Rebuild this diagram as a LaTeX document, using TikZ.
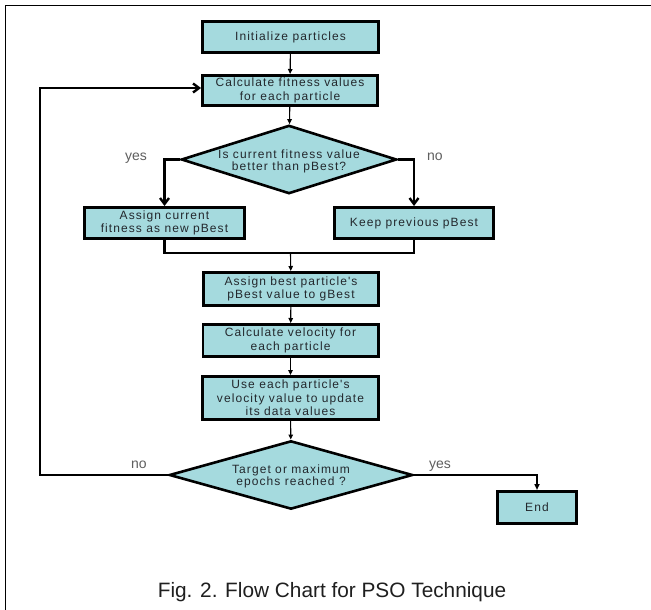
\documentclass[tikz,border=0pt]{standalone}
\usepackage{fontspec}
\setmainfont{Liberation Sans}
\newfontfamily\boxfont[LetterSpace=9]{Liberation Sans}
\usetikzlibrary{shapes.geometric,arrows.meta}
\definecolor{boxfill}{RGB}{165,218,222}
\definecolor{boxtext}{RGB}{35,40,45}
\definecolor{lbl}{RGB}{95,95,95}
\begin{document}
\begin{tikzpicture}[x=1pt,y=-1pt,
  procbox/.style={draw=black,line width=2.6pt,fill=boxfill,text=boxtext,
    font=\boxfont\fontsize{12}{13.5}\selectfont,align=center,inner sep=0pt},
  decbox/.style={shape=diamond,draw=black,line width=2.6pt,fill=boxfill,inner sep=0pt,aspect=3},
  dectext/.style={text=boxtext,font=\boxfont\fontsize{12}{12.5}\selectfont,align=center,inner sep=0pt},
  lbltext/.style={text=lbl,font=\fontsize{14}{16}\selectfont,inner sep=0pt,anchor=base west},
  thinarrow/.style={draw=black,line width=1.1pt,-{Triangle[length=5pt,width=4.5pt]}},
  midarrow/.style={draw=black,line width=1.5pt,-{Triangle[length=6pt,width=5pt]}},
  thickarrow/.style={draw=black,line width=2.4pt,-{Straight Barb[length=6pt,width=9pt]}},
  thickline/.style={draw=black,line width=2.4pt}
]
\useasboundingbox (0,0) rectangle (651,610);
\fill[white] (0,0) rectangle (651,610);
% frame
\draw[line width=1.6pt] (5.5,610) -- (5.5,5.5) -- (651,5.5);

% process boxes
\node[procbox,minimum width=176.4pt,minimum height=31.4pt] (init) at (290.5,37) {Initialize particles};
\node[procbox,minimum width=175.4pt,minimum height=30.4pt] (calc) at (290,90.5) {Calculate fitness values\\for each particle};
\node[decbox,minimum width=215.4pt,minimum height=68.4pt] (d1) at (289,159.5) {};
\node[dectext] (d1t) at ([yshift=-2pt]d1.center) {Is current fitness value\\better than pBest?};
\node[procbox,minimum width=160.4pt,minimum height=31.4pt] (assn) at (164.5,223) {Assign current\\fitness as new pBest};
\node[procbox,minimum width=159.4pt,minimum height=31.4pt] (keep) at (414,223) {Keep previous pBest};
\node[procbox,minimum width=175.4pt,minimum height=33.4pt] (best) at (291,289) {Assign best particle's\\pBest value to gBest};
\node[procbox,minimum width=175.4pt,minimum height=32.4pt] (vel) at (290.5,340.5) {Calculate velocity for\\each particle};
\node[procbox,minimum width=176.4pt,minimum height=43.4pt] (upd) at (290.5,398) {Use each particle's\\velocity value to update\\its data values};
\node[decbox,minimum width=243.4pt,minimum height=68.4pt] (d2) at (291,475) {};
\node[dectext] (d2t) at ([yshift=-1.5pt]d2.center) {Target or maximum\\epochs reached ?};
\node[procbox,minimum width=79.4pt,minimum height=32.4pt] (endn) at (537,507.5) {End};

% labels
\node[lbltext] (yes1) at (125,160.7) {yes};
\node[lbltext] (no1) at (427,160.7) {no};
\node[lbltext] (no2) at (131,468) {no};
\node[lbltext] (yes2) at (429,468) {yes};

% connectors
\coordinate (j) at (290.5,253);
\coordinate (lc) at (40,88);
\draw[thinarrow] (init) -- (calc);
\draw[thinarrow] (calc) -- (d1);
\draw[thickarrow] (d1.west) -| (assn.north);
\draw[thickarrow] (d1.east) -| (keep.north);
\draw[thickline] (assn.south) |- (j) -| (keep.south);
\draw[thinarrow] (j) -- (best);
\draw[thinarrow] (best) -- (vel);
\draw[thinarrow] (vel) -- (upd);
\draw[thinarrow] (upd) -- (d2);
\draw[thickarrow] (d2.west) -| (lc) -- (calc.west |- lc);
\draw[midarrow] (d2.east) -| (endn.north);

% caption
\node[font=\fontsize{20.8}{24}\selectfont,text=black!88,anchor=base,inner sep=0pt] (cap) at (332,597) {Fig. 2. Flow Chart for PSO Technique};
\end{tikzpicture}
\end{document}
